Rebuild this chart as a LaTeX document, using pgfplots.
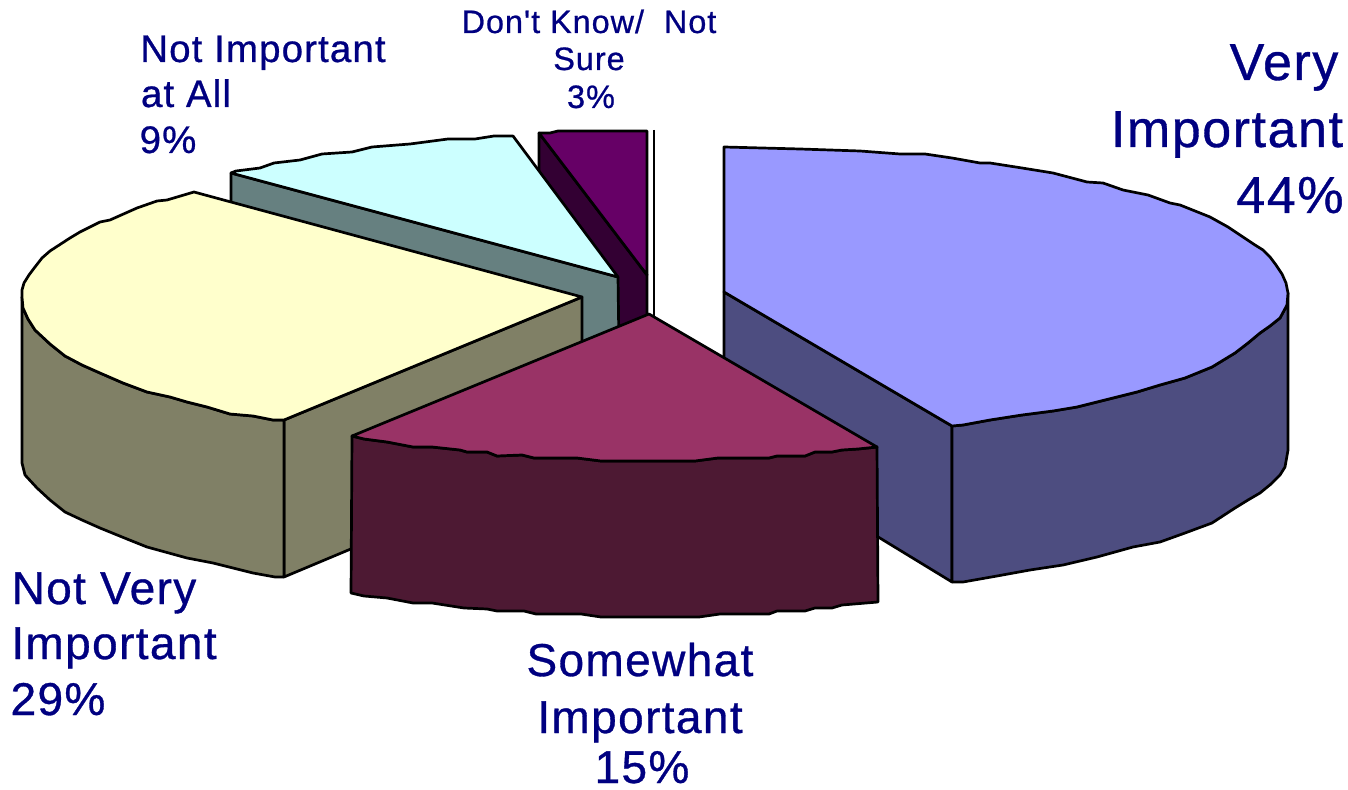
\documentclass[border=0pt]{standalone}
\usepackage{pgfplots}
\pgfplotsset{compat=1.18}
\usepackage{fontspec}
\setmainfont{Liberation Sans}
\newfontfamily\lblfont[LetterSpace=3,FakeBold=0.7]{Liberation Sans}
\definecolor{blueT}{HTML}{9999FF}\definecolor{blueS}{HTML}{4D4D80}
\definecolor{crimT}{HTML}{993366}\definecolor{crimS}{HTML}{4D1933}
\definecolor{yelT}{HTML}{FFFFCC}\definecolor{yelS}{HTML}{808066}
\definecolor{cyaT}{HTML}{CCFFFF}\definecolor{cyaS}{HTML}{668080}
\definecolor{purT}{HTML}{660066}\definecolor{purS}{HTML}{330033}
\definecolor{lab}{HTML}{000080}
\newcommand{\lbl}[4]{\node[anchor=base,text=lab,inner sep=0pt,font=\lblfont\fontsize{#3}{#3}\selectfont] at (axis cs:#1,#2) {#4};}
\pgfplotsset{face/.style={fill=#1,draw=black,line width=1.35pt,line join=round}}
\begin{document}
\begin{tikzpicture}
\begin{axis}[scale only axis,width=674pt,height=395pt,xmin=0,xmax=1348,ymin=0,ymax=790,y dir=reverse,hide axis,clip=false]
\addplot[draw=none] coordinates {(0,0)(1348,790)};
% back line
\addplot[draw=black,line width=1.35pt] coordinates {(654,130)(654,316)};
% Don't know
\addplot[face=purS] coordinates {(539,133)(647,275)(647,330)(619,340)(539,240)} -- cycle;
\addplot[face=purT] coordinates {(539,133)(550,133)(558,131)(647,131)(647,275)} -- cycle;
% Not important at all
\addplot[face=cyaS] coordinates {(231,173)(618,277)(619,350)(560,350)(231,225)} -- cycle;
\addplot[face=cyaT] coordinates {(231,173)(236,171)(260,168)(274,163)(300,160)(322,154)(352,152)(372,147)(410,144)(448,139)(475,139)(494,136)(513,136)(618,277)} -- cycle;
% Not very important
\addplot[face=yelS] coordinates {(284,420)(582,297)(582,452)(284,577)} -- cycle;
\addplot[face=yelS] coordinates {(22,297)(23,308)(28,319)(35,330)(50,344)(65,356)(82,365)(100,373)(123,383)(147,392)(170,397)(187,402)(207,407)(230,414)(253,416)(273,420)(284,420)(284,577)(275,577)(253,573)(213,563)(187,558)(147,547)(127,539)(100,528)(82,520)(65,512)(50,500)(37,488)(25,475)(22,463)} -- cycle;
\addplot[face=yelT] coordinates {(582,297)(194,192)(167,200)(157,201)(137,208)(110,220)(100,222)(80,232)(70,238)(50,251)(42,258)(35,267)(29,275)(24,283)(22,290)(22,297)(23,308)(28,319)(35,330)(50,344)(65,356)(82,365)(100,373)(123,383)(147,392)(170,397)(187,402)(207,407)(230,414)(253,416)(273,420)(284,420)} -- cycle;
% Very important
\addplot[face=blueS] coordinates {(724,292)(952,426)(952,582)(724,443)} -- cycle;
\addplot[face=blueS] coordinates {(1288,293)(1287,305)(1280,318)(1270,326)(1260,333)(1248,343)(1235,353)(1212,367)(1185,378)(1160,385)(1137,392)(1117,397)(1097,402)(1077,407)(1053,411)(1022,415)(990,420)(963,425)(952,426)(952,582)(963,582)(997,576)(1030,570)(1063,565)(1097,557)(1133,547)(1160,542)(1185,533)(1212,523)(1235,508)(1248,500)(1260,493)(1271,484)(1280,475)(1285,467)(1288,450)} -- cycle;
\addplot[face=blueT] coordinates {(724,292)(724,147)(800,149)(860,151)(900,154)(925,154)(952,158)(980,163)(990,163)(1022,168)(1053,173)(1087,182)(1103,183)(1123,190)(1148,195)(1170,203)(1180,205)(1210,217)(1228,227)(1255,245)(1263,250)(1270,257)(1276,265)(1282,274)(1286,283)(1288,293)(1287,305)(1280,318)(1270,326)(1260,333)(1248,343)(1235,353)(1212,367)(1185,378)(1160,385)(1137,392)(1117,397)(1097,402)(1077,407)(1053,411)(1022,415)(990,420)(963,425)(952,426)} -- cycle;
% Somewhat important
\addplot[face=crimS] coordinates {(352,436)(364,439)(387,442)(413,447)(432,447)(460,450)(467,452)(487,452)(497,456)(522,455)(534,458)(577,458)(601,461)(695,461)(718,458)(769,458)(777,456)(805,456)(815,452)(832,452)(842,450)(858,449)(877,447)(878,602)(842,605)(832,608)(815,608)(805,611)(777,611)(769,614)(720,614)(699,617)(601,617)(581,614)(536,614)(524,611)(497,611)(487,609)(464,608)(432,603)(413,603)(387,598)(364,596)(351,593)} -- cycle;
\addplot[face=crimT] coordinates {(649,314)(877,447)(858,449)(842,450)(832,452)(815,452)(805,456)(777,456)(769,458)(718,458)(695,461)(601,461)(577,458)(534,458)(522,455)(497,456)(487,452)(467,452)(460,450)(432,447)(413,447)(387,442)(364,439)(352,436)} -- cycle;
% Labels
\lbl{1284}{80}{26}{Very}
\lbl{1227}{147}{26}{Important}
\lbl{1290}{213}{26}{44\%}
\lbl{640}{676}{23}{Somewhat}
\lbl{640}{733}{23}{Important}
\lbl{642}{783}{23}{15\%}
\lbl{104}{604}{23}{Not Very}
\lbl{114}{659}{23}{Important}
\lbl{58}{715}{23}{29\%}
\lbl{263}{62}{19.2}{Not Important}
\lbl{186}{107}{19.2}{at All}
\lbl{168}{153}{19.2}{9\%}
\lbl{589}{33}{16.2}{Don't Know/\ \ Not}
\lbl{589}{70}{16.2}{Sure}
\lbl{591}{108}{16.2}{3\%}
\end{axis}
\end{tikzpicture}
\end{document}
